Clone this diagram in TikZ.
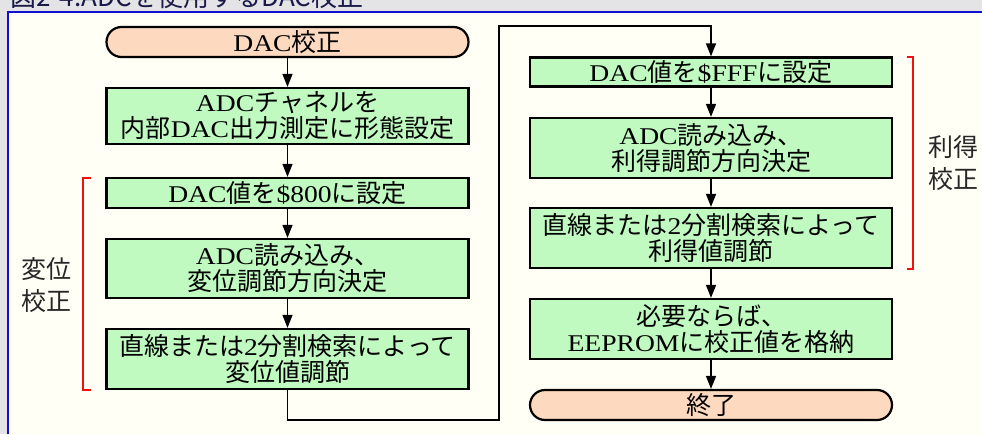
\documentclass[tikz,border=0pt]{standalone}
\usepackage{fontspec}
\usetikzlibrary{arrows.meta}
\newfontfamily\jpfont{Noto Sans CJK JP}
\newfontfamily\latfont[FakeStretch=1.15]{Liberation Serif}
\newcommand\lt[1]{{\latfont\fontsize{24}{26}\selectfont #1}}
\definecolor{hdrgrey}{HTML}{E4E4E6}
\definecolor{bgcream}{HTML}{FFFFF6}
\definecolor{framblue}{HTML}{1010D0}
\definecolor{boxgreen}{HTML}{C0FAC0}
\definecolor{termpeach}{HTML}{FDD9BF}
\definecolor{titlenavy}{HTML}{1A1A4A}
\definecolor{brkred}{HTML}{F01010}
\begin{document}
\begin{tikzpicture}[x=1pt,y=-1pt,
  procbox/.style={draw=black, line width=2.2pt, fill=boxgreen, minimum width=362pt,
    inner sep=0pt, align=center, font=\jpfont\fontsize{25}{26}\selectfont},
  termbox/.style={procbox, fill=termpeach, rounded corners=15pt, minimum height=30pt},
  arr/.style={draw=black, line width=1.3pt, -{Triangle[width=10pt,length=13pt]}},
  brk/.style={draw=brkred, line width=1.3pt},
  sidelbl/.style={inner sep=0pt, align=center, text=black!85,
    font=\jpfont\fontsize{25}{32}\selectfont}]
\useasboundingbox (0,0) rectangle (982,434);
\clip (0,0) rectangle (982,434);
\fill[hdrgrey] (0,0) rectangle (982,434);
\fill[bgcream] (8,12) rectangle (982,434);
\draw[framblue, line width=2pt] (8,434) -- (8,12) -- (982,12);
\node[anchor=base west, inner sep=0pt, text=titlenavy,
  font=\jpfont\fontsize{26}{26}\selectfont] (title) at (10,6) {図2-4.ADCを使用するDAC校正};

% left column
\node[termbox] (start) at (287.5,42) {\lt{DAC}校正};
\node[procbox, minimum height=56pt] (b1) at (287.5,116) {\lt{ADC}チャネルを\\内部\lt{DAC}出力測定に形態設定};
\node[procbox, minimum height=30pt] (b2) at (287.5,193) {\lt{DAC}値を\lt{\$800}に設定};
\node[procbox, minimum height=59pt] (b3) at (287.5,268.5) {\lt{ADC}読み込み、\\変位調節方向決定};
\node[procbox, minimum height=60pt] (b4) at (287.5,359) {直線または\lt{2}分割検索によって\\変位値調節};

% right column
\node[procbox, minimum height=29pt] (r1) at (711,72) {\lt{DAC}値を\lt{\$FFF}に設定};
\node[procbox, minimum height=60pt] (r2) at (711,148) {\lt{ADC}読み込み、\\利得調節方向決定};
\node[procbox, minimum height=60pt] (r3) at (711,238) {直線または\lt{2}分割検索によって\\利得値調節};
\node[procbox, minimum height=60pt] (r4) at (711,329) {必要ならば、\\\lt{EEPROM}に校正値を格納};
\node[termbox] (stop) at (711,405) {終了};

% connectors
\draw[arr] (start) -- (b1);
\draw[arr] (b1) -- (b2);
\draw[arr] (b2) -- (b3);
\draw[arr] (b3) -- (b4);
\coordinate (c1) at (287.5,420);
\coordinate (c2) at (499,420);
\coordinate (c3) at (499,26);
\coordinate (c4) at (711,26);
\draw[arr] (b4.south) -- (c1) -- (c2) -- (c3) -- (c4) -- (r1.north);
\draw[arr] (r1) -- (r2);
\draw[arr] (r2) -- (r3);
\draw[arr] (r3) -- (r4);
\draw[arr] (r4) -- (stop);

% brackets
\coordinate (lb1) at (91,178);
\coordinate (lb2) at (83,178);
\coordinate (lb3) at (83,390);
\coordinate (lb4) at (91,390);
\draw[brk] (lb1) -- (lb2) -- (lb3) -- (lb4);
\coordinate (rb1) at (907,57);
\coordinate (rb2) at (913,57);
\coordinate (rb3) at (913,269);
\coordinate (rb4) at (907,269);
\draw[brk] (rb1) -- (rb2) -- (rb3) -- (rb4);

\node[sidelbl] (lbl1) at (46,285) {変位\\校正};
\node[sidelbl] (lbl2) at (953,163) {利得\\校正};
\end{tikzpicture}
\end{document}
